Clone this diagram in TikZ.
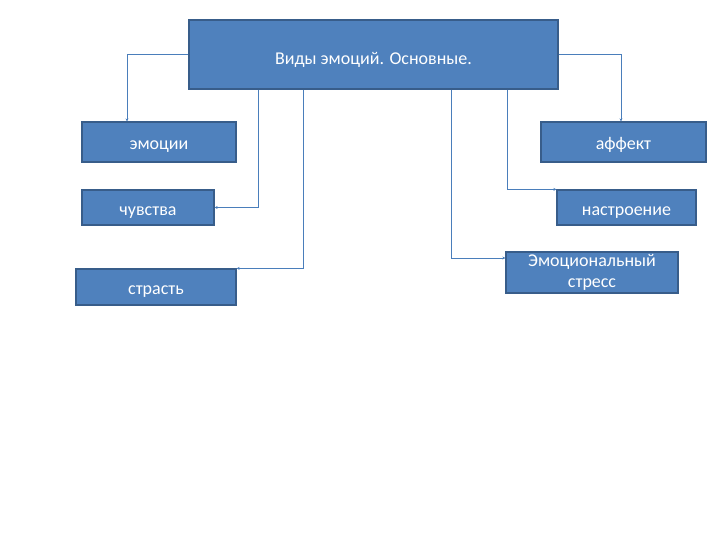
\documentclass[tikz,border=0pt]{standalone}
\usepackage{fontspec}
\setmainfont{Carlito}
\usetikzlibrary{arrows.meta}
\definecolor{boxfill}{HTML}{4F81BD}
\definecolor{boxline}{HTML}{385D8A}
\definecolor{conn}{HTML}{4A7EBB}
\begin{document}
\begin{tikzpicture}[x=1pt,y=-1pt,
  box/.style={draw=boxline,line width=1.2pt,fill=boxfill,text=white,inner sep=0pt,
    font=\fontsize{18}{21}\selectfont,align=center},
  one/.style={box,text height=15pt,text depth=0pt},
  link/.style={draw=conn,line width=0.8pt,-{Stealth[length=3pt,width=3pt]}}]
\useasboundingbox (0,0) rectangle (720,540);
\node[one,text height=20pt,minimum width=369pt,minimum height=69pt] (top) at (373.5,54.5) {Виды эмоций. Основные.};
\node[one,minimum width=154pt,minimum height=40pt] (emo) at (159,142) {эмоции};
\node[one,minimum width=132pt,minimum height=35pt] (feel) at (148,207.5) {чувства};
\node[one,minimum width=160pt,minimum height=36pt] (pass) at (156,287) {страсть};
\node[one,minimum width=165pt,minimum height=40pt] (aff) at (623.5,142) {аффект};
\node[one,minimum width=139pt,minimum height=35pt] (mood) at (626.5,207.5) {настроение};
\node[box,minimum width=172pt,minimum height=41pt] (stress) at (592,272.5) {Эмоциональный\\стресс};
\draw[link] (top.west) -| (emo.north west -| 127,0);
\draw[link] (top.east) -| (aff.north west -| 621,0);
\draw[link] (top.south west -| 258,0) |- (feel.east);
\draw[link] (top.south west -| 303,0) |- (pass.north east);
\draw[link] (top.south west -| 507,0) |- (mood.north west);
\draw[link] (top.south west -| 451,0) |- (stress.west |- 0,258);
\end{tikzpicture}
\end{document}
